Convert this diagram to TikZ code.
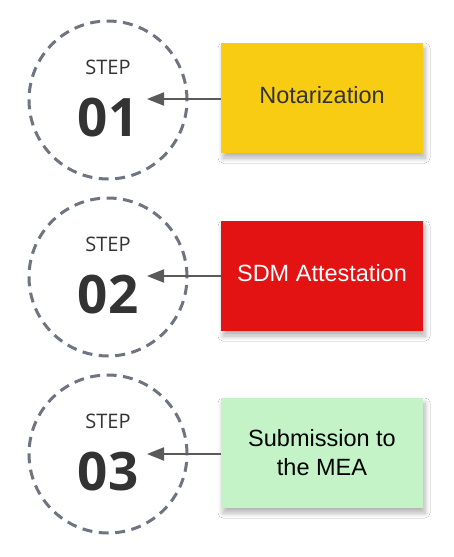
\documentclass[tikz,border=0pt]{standalone}
\usepackage{fontspec}
\setmainfont{Liberation Sans}
\newfontfamily\stepfont{Open Sans}
\usetikzlibrary{shadows.blur,arrows.meta}
\definecolor{circgray}{HTML}{6E7480}
\definecolor{arrgray}{HTML}{5A5A5A}
\definecolor{txtdark}{HTML}{333333}
\definecolor{boxyellow}{HTML}{F9CC14}
\definecolor{boxred}{HTML}{E41313}
\definecolor{boxgreen}{HTML}{C3F3C6}
\tikzset{
  stepcircle/.style={circle, draw=circgray, line width=3pt, dash pattern=on 10pt off 6.5pt, minimum size=158pt, inner sep=0pt},
  steplabel/.style={font=\stepfont\fontsize{20}{24}\selectfont, text=txtdark},
  stepnum/.style={font=\stepfont\bfseries\fontsize{53}{60}\selectfont, text=txtdark},
  infobox/.style={minimum width=202pt, minimum height=110pt, inner sep=0pt, align=center, font=\fontsize{23.5}{29}\selectfont,
    blur shadow={shadow xshift=2pt, shadow yshift=-5pt, shadow blur steps=8, shadow opacity=30, shadow blur radius=5pt}},
  link/.style={draw=arrgray, line width=2pt, -{Triangle[length=17pt,width=13pt]}}
}
\begin{document}
\begin{tikzpicture}[x=1pt,y=-1pt]
\path[fill=white] (0,0) rectangle (453,557);
\useasboundingbox (0,0) rectangle (453,557);

\node[stepcircle] (c1) at (108,100) {};
\node[stepcircle] (c2) at (108,277) {};
\node[stepcircle] (c3) at (108,454) {};

\node[steplabel] (s1) at (108,67) {STEP};
\node[steplabel] (s2) at (108,244) {STEP};
\node[steplabel] (s3) at (108,421) {STEP};

\node[stepnum] (n1) at (108,118) {01};
\node[stepnum] (n2) at (108,295) {02};
\node[stepnum] (n3) at (108,472) {03};

\node[infobox, fill=boxyellow, text=txtdark] (b1) at (322,98) {\raisebox{6pt}{Notarization}};
\node[infobox, fill=boxred, text=white] (b2) at (322,276) {\raisebox{6pt}{SDM Attestation}};
\node[infobox, fill=boxgreen, text=black] (b3) at (322,453) {Submission to\\the MEA};

\coordinate (t1) at (147,99);
\coordinate (t2) at (147,276);
\coordinate (t3) at (147,454);
\draw[link] (b1.west |- t1) -- (t1);
\draw[link] (b2.west |- t2) -- (t2);
\draw[link] (b3.west |- t3) -- (t3);
\end{tikzpicture}
\end{document}
